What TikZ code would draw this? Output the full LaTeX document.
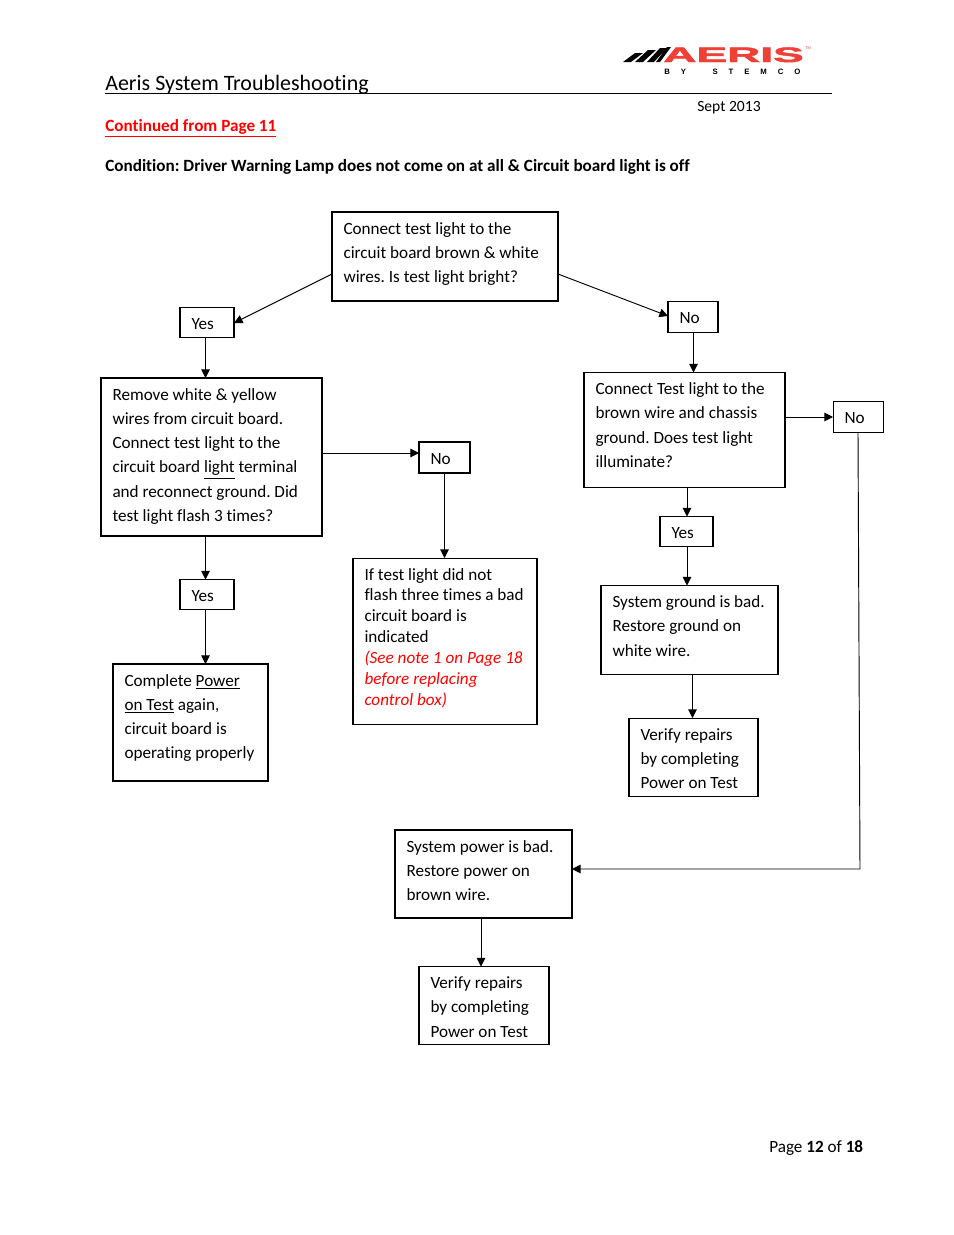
\documentclass[tikz,border=0pt]{standalone}
\usepackage{fontspec}
\setmainfont[Ligatures=NoCommon]{Carlito}
\newfontfamily\logofont{Liberation Sans}
\usetikzlibrary{arrows.meta}
\frenchspacing
\newdimen\pxu
\pxu=0.6415pt
\definecolor{aerisred}{HTML}{EE4036}
\tikzset{
  flowbox/.style 2 args={draw,anchor=north west,align=flush left,inner xsep=11.5\pxu,inner ysep=0pt,outer sep=0pt,
    text width=#1\pxu,text height=22\pxu,text depth=#2\pxu,line width=0.65pt,
    font=\frenchspacing\fontsize{11}{15.6}\selectfont},
  heavybox/.style={line width=1.1pt},
  label/.style={anchor=base west,inner sep=0pt},
  flow/.style={draw,line width=0.6pt,-{Triangle[length=5.5pt,width=5.5pt]}},
}
\begin{document}
\begin{tikzpicture}[x=1\pxu,y=-1\pxu]
        \useasboundingbox (0,0) rectangle (954,1235);
        % header
        \node[label,font=\fontsize{14.1}{17}\selectfont] (title) at (105,90) {Aeris System Troubleshooting};
        \coordinate (ruleL) at (105,93.5);
        \coordinate (ruleR) at (832,93.5);
        \draw[line width=0.6pt] (ruleL) -- (ruleR);
        \node[label,font=\fontsize{10}{12}\selectfont] (date) at (697,111) {Sept 2013};
        \node[label,font=\fontsize{11}{13}\selectfont\bfseries,text=red] (cont) at (105,131) {\underline{Continued from Page 11}};
        \node[label,font=\frenchspacing\fontsize{11}{13}\selectfont\bfseries] (cond) at (105,171) {Condition: Driver Warning Lamp does not come on at all \& Circuit board light is off};
        \node[label,font=\fontsize{11}{13}\selectfont] (page) at (769,1152) {Page \textbf{12} of \textbf{18}};
        % logo
        \fill (623,62) -- (631,62) -- (643,53) -- (635,53) -- cycle;
        \fill (635,62) -- (643,62) -- (656,50) -- (648,50) -- cycle;
        \fill (647,62) -- (654,62) -- (667,48) -- (660,48) -- cycle;
        \fill (656,62) -- (660,62) -- (671,47) -- (667,47) -- cycle;
        \node[label,text=aerisred,font=\logofont\bfseries\fontsize{13.4}{14}\selectfont] (aeris) at (663,62) {\addfontfeature{FakeBold=2}\scalebox{2.2}[1]{AERIS}};
        \node[label,text=aerisred,font=\logofont\fontsize{2.5}{3}\selectfont] (tm) at (805,49) {TM};
        \node[label,font=\logofont\bfseries\fontsize{5}{6}\selectfont] (stemco) at (664,74) {\addfontfeature{LetterSpace=140}BY\hspace{17pt}STEMCO};
        % boxes
        \node[flowbox={203}{67},line width=0.85pt] (start) at (332,212) {Connect test light to the\\circuit board brown \& white\\wires. Is test light bright?};
        \node[flowbox={31}{8}] (yesA) at (180,307.5) {Yes};
        \node[flowbox={27}{8.5}] (noA) at (668,301.5) {No};
        \node[flowbox={198}{136},heavybox] (remove) at (101,378) {Remove white \& yellow\\wires from circuit board.\\Connect test light to the\\circuit board \underline{light} terminal\\and reconnect ground. Did\\test light flash 3 times?};
        \node[flowbox={28}{9},heavybox] (noB) at (419,442) {No};
        \node[flowbox={161}{144},font=\fontsize{11}{13.4}\selectfont] (flash) at (353,558) {If test light did not\\flash three times a bad\\circuit board is\\indicated\\\textcolor{red}{\textit{(See note 1 on Page 18}}\\\textcolor{red}{\textit{before replacing}}\\\textcolor{red}{\textit{control box)}}};
        \node[flowbox={31}{7.5}] (yesB) at (180,579.5) {Yes};
        \node[flowbox={132}{95},heavybox] (complete) at (113,664) {Complete \underline{Power}\\\underline{on Test} again,\\circuit board is\\operating properly};
        \node[flowbox={178}{92.5}] (chassis) at (584,372.5) {Connect Test light to the\\brown wire and chassis\\ground. Does test light\\illuminate?};
        \node[flowbox={27}{8.5}] (noC) at (833,401.5) {No};
        \node[flowbox={30}{7.5}] (yesC) at (660,516.5) {Yes};
        \node[flowbox={154}{66.5}] (ground) at (601,585.5) {System ground is bad.\\Restore ground on\\white wire.};
        \node[flowbox={106}{56}] (verifyA) at (629,718) {Verify repairs\\by completing\\Power on Test};
        \node[flowbox={154}{66},heavybox] (power) at (395,830) {System power is bad.\\Restore power on\\brown wire.};
        \node[flowbox={107}{55.5}] (verifyB) at (419,966.5) {Verify repairs\\by completing\\Power on Test};
        % connectors
        \coordinate (startL) at (332,274);
        \coordinate (startR) at (558,274);
        \coordinate (yesAin) at (234,323);
        \coordinate (noAin) at (668,316);
        \draw[flow] (startL) -- (yesAin);
        \draw[flow] (startR) -- (noAin);
        \draw[flow] (yesA.south -| 205.5,0) -- (remove.north -| 205.5,0);
        \draw[flow] (noA.south -| 693.5,0) -- (chassis.north -| 693.5,0);
        \draw[flow] (remove.east |- 0,453) -- (noB.west |- 0,453);
        \draw[flow] (noB.south -| 444.5,0) -- (flash.north -| 444.5,0);
        \draw[flow] (remove.south -| 205.5,0) -- (yesB.north -| 205.5,0);
        \draw[flow] (yesB.south -| 205.5,0) -- (complete.north -| 205.5,0);
        \draw[flow] (chassis.east |- 0,417) -- (noC.west |- 0,417);
        \draw[flow] (chassis.south -| 687,0) -- (yesC.north -| 687,0);
        \draw[flow] (yesC.south -| 687,0) -- (ground.north -| 687,0);
        \draw[flow] (ground.south -| 692.5,0) -- (verifyA.north -| 692.5,0);
        \coordinate (noCout) at (858,432);
        \coordinate (elbow) at (860,869);
        \draw[flow] (noCout) -- (elbow) -- (power.east |- elbow);
        \draw[flow] (power.south -| 481,0) -- (verifyB.north -| 481,0);
      \end{tikzpicture}
\end{document}
